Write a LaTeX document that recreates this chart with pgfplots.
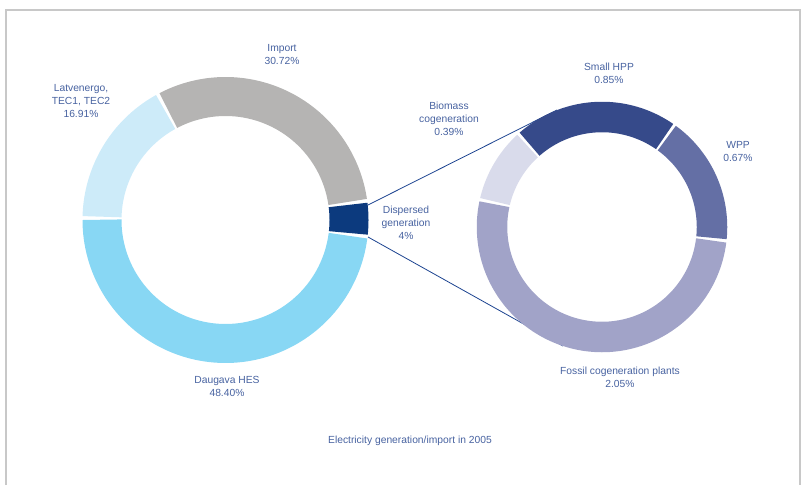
\documentclass[border=0pt]{standalone}
\usepackage{fontspec}
\setmainfont{Liberation Sans}
\usepackage{pgfplots}
\usepackage{pgfplotstable}
\pgfplotsset{compat=1.18}

\definecolor{cImp}{HTML}{B5B4B3}
\definecolor{cLat}{HTML}{CDEBF9}
\definecolor{cDau}{HTML}{88D7F4}
\definecolor{cDis}{HTML}{0C3A7E}
\definecolor{cHPP}{HTML}{364A8A}
\definecolor{cWPP}{HTML}{646FA5}
\definecolor{cFos}{HTML}{A1A3C8}
\definecolor{cBio}{HTML}{D9DBEB}
\definecolor{cLine}{HTML}{1C4390}
\definecolor{cTxt}{HTML}{4762A0}
\definecolor{cFrame}{HTML}{C8C8C8}

% left ring (share of total, %)
\pgfplotstableread{
name value
Dispersed 4.00
Import 30.72
Latvenergo 16.91
Daugava 48.40
}\lefttable
% right ring (dispersed generation split, %)
\pgfplotstableread{
name value
WPP 0.67
SmallHPP 0.85
Biomass 0.39
Fossil 2.05
}\righttable

\newcommand\val[3]{\pgfplotstablegetelem{#2}{value}\of{#1}\xdef#3{\pgfplotsretval}}
\val\lefttable{0}\lA
\val\lefttable{1}\lB
\val\lefttable{2}\lC
\val\lefttable{3}\lD
\val\righttable{0}\rA
\val\righttable{1}\rB
\val\righttable{2}\rC
\val\righttable{3}\rD
\pgfmathsetmacro\lsA{-6.7}
\pgfmathsetmacro\leA{\lsA+3.6*\lA}
\pgfmathsetmacro\leB{\leA+3.6*\lB}
\pgfmathsetmacro\leC{\leB+3.6*\lC}
\pgfmathsetmacro\leD{\leC+3.6*\lD}
\pgfmathsetmacro\rtot{\rA+\rB+\rC+\rD}
\pgfmathsetmacro\rsA{-6.3}
\pgfmathsetmacro\reA{\rsA+360*\rA/\rtot}
\pgfmathsetmacro\reB{\reA+360*\rB/\rtot}
\pgfmathsetmacro\reC{\reB+360*\rC/\rtot}
\pgfmathsetmacro\reD{\reC+360*\rD/\rtot}

% cx, cy, mid radius, ring width, start angle, end angle, colour
\newcommand\seg[7]{\addplot[draw=#7, line width=#4pt, line cap=butt, line join=round, no markers, domain={#5+0.7}:{#6-0.7}, samples=90, variable=\t] ({#1+#3*cos(\t)},{#2-#3*sin(\t)});}

\tikzset{lab/.style={font=\fontsize{10.3}{13}\selectfont, text=cTxt, align=center, inner sep=0pt}}

\begin{document}
\begin{tikzpicture}
\begin{axis}[x=1pt, y=1pt, xmin=0, xmax=803, ymin=0, ymax=485, y dir=reverse, hide axis, clip=false]
% frame
\addplot[draw=cFrame, line width=1.3pt, no markers] coordinates {(6,485) (6,10) (800,10) (800,485)};
% connector lines
\addplot[draw=cLine, line width=0.8pt, no markers] coordinates {(368,205) (557,110)};
\addplot[draw=cLine, line width=0.8pt, no markers] coordinates {(368,237) (563,346)};
% left ring
\seg{225.5}{220}{123.5}{39}{\lsA}{\leA}{cDis}
\seg{225.5}{220}{123.5}{39}{\leA}{\leB}{cImp}
\seg{225.5}{220}{123.5}{39}{\leB}{\leC}{cLat}
\seg{225.5}{220}{123.5}{39}{\leC}{\leD}{cDau}
% right ring
\seg{602}{227}{110}{30.5}{\rsA}{\reA}{cWPP}
\seg{602}{227}{110}{30.5}{\reA}{\reB}{cHPP}
\seg{602}{227}{110}{30.5}{\reB}{\reC}{cBio}
\seg{602}{227}{110}{30.5}{\reC}{\reD}{cFos}
% labels
\node[lab] at (axis cs:282,55) {Import\\30.72\%};
\node[lab] at (axis cs:81,101) {Latvenergo,\\TEC1, TEC2\\16.91\%};
\node[lab] at (axis cs:406,223) {Dispersed\\generation\\4\%};
\node[lab] at (axis cs:227,386) {Daugava HES\\48.40\%};
\node[lab] at (axis cs:609,73) {Small HPP\\0.85\%};
\node[lab] at (axis cs:449,119) {Biomass\\cogeneration\\0.39\%};
\node[lab] at (axis cs:738,152) {WPP\\0.67\%};
\node[lab] at (axis cs:620,377) {Fossil cogeneration plants\\2.05\%};
\node[lab] at (axis cs:410,441) {Electricity generation/import in 2005};
\end{axis}
\pgfresetboundingbox
\path[use as bounding box] (current axis.south west) rectangle (current axis.north east);
\end{tikzpicture}
\end{document}
